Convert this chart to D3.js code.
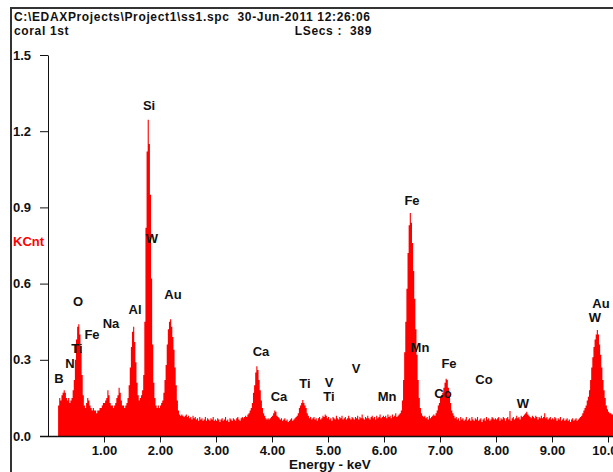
<!DOCTYPE html>
<html>
<head>
<meta charset="utf-8">
<script src="https://cdn.jsdelivr.net/npm/d3@7"></script>
<style>
  body { margin: 0; background: #fff; }
  svg text { font-family: "Liberation Sans", Arial, sans-serif; font-weight: bold; }
</style>
</head>
<body>
<svg id="chart" width="613" height="472"></svg>
<script>

// spectrum: one row per 0.5 keV, channels 0.02 keV wide (KCnt)
var rowKeV = 0.5, channelKeV = 0.02;
var counts = [
  [0,0,0,0,0,0,0,0,0, 0.12,0.15,0.14,0.16,0.17,0.18,0.17,0.15,0.14,0.15,0.13,0.14,0.15,0.18,0.22,0.30],
  [0.38,0.43,0.44,0.40,0.33,0.24,0.16,0.12,0.11,0.13,0.15,0.14,0.12,0.11,0.10,0.11,0.10,0.10,0.09,0.10,0.10,0.11,0.11,0.12,0.13],
  [0.13,0.14,0.15,0.18,0.16,0.13,0.12,0.12,0.11,0.12,0.13,0.15,0.16,0.19,0.17,0.14,0.12,0.12,0.11,0.12,0.13,0.15,0.20,0.27,0.35],
  [0.41,0.43,0.37,0.29,0.21,0.16,0.14,0.15,0.16,0.18,0.24,0.45,0.82,1.12,1.245,1.15,0.95,0.62,0.36,0.21,0.15,0.12,0.11,0.12,0.11],
  [0.12,0.13,0.14,0.17,0.22,0.28,0.36,0.42,0.45,0.46,0.43,0.39,0.34,0.27,0.20,0.14,0.10,0.085,0.08,0.085,0.08,0.075,0.08,0.085,0.075],
  [0.08,0.07,0.075,0.065,0.08,0.07,0.075,0.065,0.07,0.06,0.075,0.065,0.07,0.06,0.065,0.075,0.06,0.07,0.065,0.06,0.07,0.065,0.075,0.06,0.065],
  [0.06,0.07,0.065,0.055,0.065,0.07,0.06,0.065,0.075,0.06,0.065,0.055,0.07,0.065,0.06,0.07,0.065,0.06,0.07,0.075,0.065,0.06,0.07,0.075,0.07],
  [0.075,0.08,0.075,0.085,0.09,0.10,0.11,0.13,0.17,0.20,0.25,0.275,0.26,0.22,0.18,0.14,0.11,0.09,0.08,0.07,0.065,0.07,0.065,0.07,0.075],
  [0.08,0.09,0.10,0.095,0.08,0.075,0.07,0.065,0.07,0.06,0.065,0.07,0.06,0.065,0.055,0.06,0.065,0.07,0.06,0.065,0.07,0.075,0.08,0.09,0.11],
  [0.12,0.13,0.142,0.13,0.12,0.11,0.09,0.08,0.07,0.075,0.065,0.07,0.075,0.065,0.07,0.06,0.07,0.075,0.065,0.07,0.08,0.075,0.085,0.08,0.07],
  [0.075,0.065,0.07,0.06,0.075,0.07,0.065,0.08,0.07,0.065,0.075,0.07,0.08,0.065,0.07,0.075,0.065,0.07,0.08,0.07,0.065,0.075,0.07,0.065,0.075],
  [0.07,0.08,0.065,0.075,0.07,0.085,0.07,0.065,0.075,0.07,0.08,0.07,0.065,0.075,0.08,0.07,0.075,0.065,0.08,0.07,0.075,0.085,0.07,0.075,0.08],
  [0.075,0.08,0.07,0.085,0.075,0.08,0.07,0.085,0.075,0.08,0.09,0.075,0.08,0.085,0.09,0.10,0.14,0.22,0.33,0.45,0.58,0.72,0.83,0.878,0.84],
  [0.76,0.65,0.54,0.42,0.32,0.22,0.15,0.11,0.09,0.08,0.075,0.08,0.07,0.075,0.065,0.08,0.07,0.075,0.08,0.085,0.08,0.09,0.10,0.12,0.13],
  [0.15,0.16,0.17,0.19,0.21,0.225,0.22,0.19,0.16,0.13,0.10,0.09,0.08,0.07,0.075,0.065,0.07,0.06,0.075,0.065,0.07,0.06,0.065,0.075,0.06],
  [0.065,0.07,0.06,0.075,0.065,0.06,0.07,0.065,0.075,0.06,0.065,0.07,0.055,0.065,0.07,0.06,0.075,0.065,0.07,0.06,0.065,0.075,0.07,0.065,0.07],
  [0.065,0.07,0.075,0.06,0.07,0.065,0.075,0.07,0.06,0.07,0.075,0.065,0.098,0.06,0.07,0.075,0.065,0.07,0.08,0.07,0.075,0.065,0.08,0.075,0.08],
  [0.085,0.09,0.095,0.085,0.08,0.075,0.07,0.08,0.075,0.07,0.08,0.075,0.065,0.075,0.07,0.08,0.07,0.075,0.09,0.07,0.075,0.065,0.07,0.075,0.065],
  [0.07,0.065,0.075,0.07,0.06,0.07,0.065,0.075,0.06,0.065,0.07,0.06,0.065,0.07,0.06,0.065,0.055,0.065,0.07,0.06,0.065,0.07,0.06,0.065,0.07],
  [0.075,0.08,0.09,0.10,0.11,0.12,0.14,0.155,0.18,0.22,0.27,0.31,0.35,0.38,0.40,0.417,0.40,0.36,0.32,0.27,0.22,0.18,0.15,0.12,0.105],
  [0.095,0.09,0.09,0.085,0.085,0.08,0.08,0.075,0.08,0.075,0.07]
];

var yTicks = [0, 0.3, 0.6, 0.9, 1.2, 1.5];
var xTicks = [1, 2, 3, 4, 5, 6, 7, 8, 9, 10];

// element markers (keV, KCnt of label centre)
var labelNames = ["B","N","Ti","O","Fe","Na","Al","Si","W","Au","Ca","Ca","Ti","V","Ti","V","Mn","Fe","Mn","Fe","Co","Co","W","Au","W"];
var labelKeV   = [0.196,0.393,0.518,0.536,0.786,1.125,1.554,1.804,1.857,2.232,3.804,4.125,4.589,5.018,5.018,5.5,6.054,6.5,6.643,7.161,7.054,7.786,8.482,9.875,9.768];
var labelKCnt  = [0.228,0.287,0.343,0.528,0.398,0.445,0.500,1.303,0.776,0.559,0.331,0.154,0.205,0.209,0.154,0.264,0.154,0.929,0.350,0.287,0.169,0.224,0.130,0.520,0.465];

var titleLine = "C:\\EDAXProjects\\Project1\\ss1.spc  30-Jun-2011 12:26:06";
var sampleName = "coral 1st";
var liveSecs = "LSecs :  389";

(function() {

  var svg = d3.select("#chart");
  var fontSize = 13;

  var x = d3.scaleLinear().domain([0, 10]).range([48, 608]);
  var y = d3.scaleLinear().domain([0, 1.5]).range([436, 55]);

  var channels = [];
  counts.forEach(function(row, r) {
    row.forEach(function(v, j) {
      channels.push({ keV: r * rowKeV + j * channelKeV, v: v });
    });
  });

  function drawFrame() {
    svg.append("path")
      .attr("d", "M11,472 V8 H613")
      .attr("fill", "none")
      .attr("stroke", "#333")
      .attr("stroke-width", 2);

    // header text: wide bold face, approximated with letter spacing
    svg.append("text").attr("x", 14).attr("y", 21)
      .attr("font-size", 12).attr("letter-spacing", 0.65).attr("fill", "#111")
      .attr("xml:space", "preserve")
      .text(titleLine);
    svg.append("text").attr("x", 14).attr("y", 35)
      .attr("font-size", 12).attr("letter-spacing", 0.65).attr("fill", "#111")
      .text(sampleName);
    svg.append("text").attr("x", 372).attr("y", 35)
      .attr("font-size", 12).attr("letter-spacing", 0.65).attr("fill", "#111")
      .attr("text-anchor", "end")
      .attr("xml:space", "preserve")
      .text(liveSecs);
  }

  function drawSpectrum() {
    var area = d3.area()
      .curve(d3.curveStepAfter)
      .x(function(d) { return x(d.keV); })
      .y0(y(0))
      .y1(function(d) { return y(d.v); });

    svg.append("path")
      .datum(channels)
      .attr("class", "spectrum")
      .attr("fill", "#ff0000")
      .attr("d", area);
  }

  function drawAxes() {
    var yAxis = svg.append("g")
      .attr("transform", "translate(48,0)")
      .call(d3.axisLeft(y)
        .tickValues(yTicks)
        .tickSize(8)
        .tickSizeOuter(0)
        .tickPadding(9)
        .tickFormat(d3.format(".1f")));
    yAxis.selectAll("text").attr("font-size", fontSize).attr("fill", "#111")
      .attr("font-family", "Liberation Sans, Arial, sans-serif");
    yAxis.selectAll("line,path").attr("stroke", "#111");

    svg.append("line")
      .attr("x1", 40).attr("x2", 613)
      .attr("y1", y(0) + 0.5).attr("y2", y(0) + 0.5)
      .attr("stroke", "#111")
      .attr("stroke-width", 1.5);

    var xAxis = svg.append("g")
      .attr("transform", "translate(0," + (y(0) + 0.5) + ")")
      .call(d3.axisBottom(x)
        .tickValues(xTicks)
        .tickSize(6)
        .tickSizeOuter(0)
        .tickPadding(3)
        .tickFormat(d3.format(".2f")));
    xAxis.select(".domain").remove();
    xAxis.selectAll("text").attr("font-size", fontSize).attr("fill", "#111")
      .attr("font-family", "Liberation Sans, Arial, sans-serif");
    xAxis.selectAll("line").attr("stroke", "#111");

    svg.append("text")
      .attr("x", 330).attr("y", 469)
      .attr("text-anchor", "middle")
      .attr("font-size", 13.5).attr("fill", "#111")
      .text("Energy - keV");

    svg.append("text")
      .attr("x", 13).attr("y", 246)
      .attr("font-size", fontSize).attr("fill", "#ff0000")
      .text("KCnt");
  }

  function drawLabels() {
    svg.append("g").attr("class", "element-labels")
      .selectAll("text")
      .data(labelNames)
      .enter()
      .append("text")
        .attr("x", function(d, i) { return x(labelKeV[i]); })
        .attr("y", function(d, i) { return y(labelKCnt[i]); })
        .attr("dy", "0.35em")
        .attr("text-anchor", "middle")
        .attr("font-size", fontSize)
        .attr("fill", "#111")
        .text(function(d) { return d; });
  }

  drawSpectrum();
  drawAxes();
  drawLabels();
  drawFrame();

})();
</script>
</body>
</html>
